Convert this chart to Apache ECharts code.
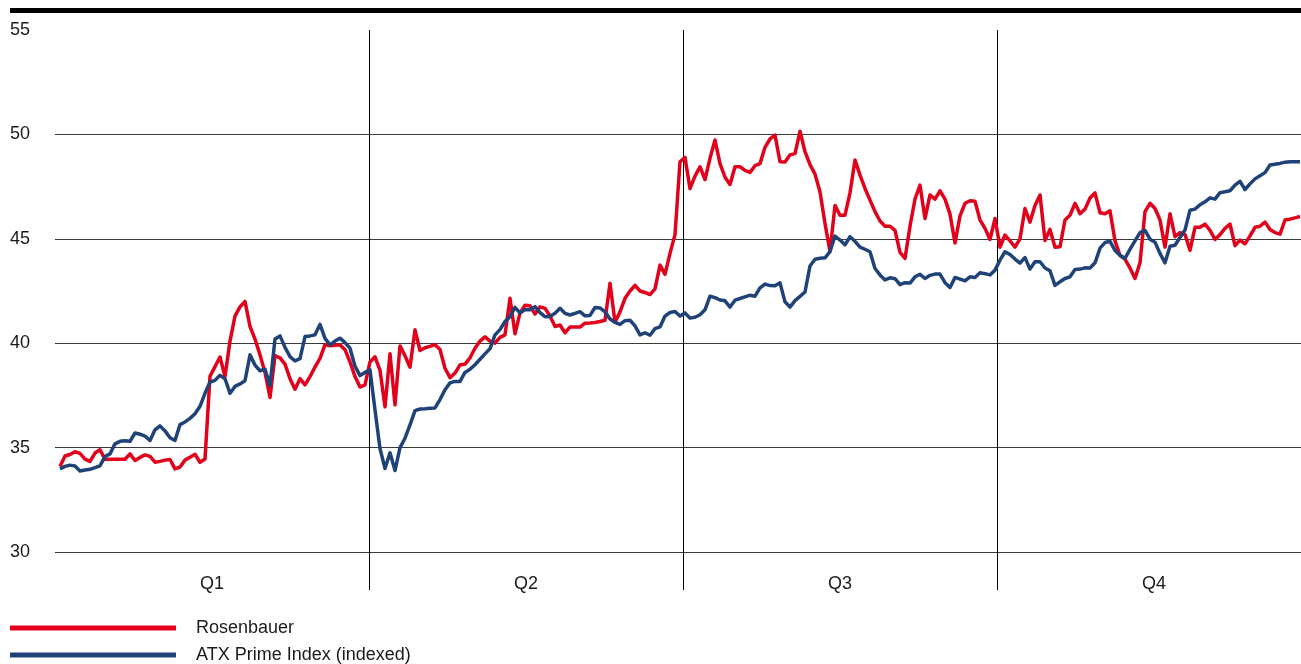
<!DOCTYPE html>
<html>
<head>
<meta charset="utf-8">
<script src="https://cdn.jsdelivr.net/npm/echarts@6/dist/echarts.min.js"></script>
<style>
html,body{margin:0;padding:0;background:#fff;overflow:hidden;width:1301px;height:664px;}
#chart{width:1311px;height:664px;}
</style>
</head>
<body>
<div id="chart"></div>
<script>
const quarters = ['Q1', 'Q2', 'Q3', 'Q4'];
const yTicks = [30, 35, 40, 45, 50, 55];
const seriesNames = ['Rosenbauer', 'ATX Prime Index (indexed)'];

const rosenbauer = [
34.1,34.6,34.67,34.8,34.72,34.45,34.34,34.74,34.9,34.44,
34.44,34.44,34.44,34.44,34.7,34.38,34.53,34.65,34.58,34.3,
34.34,34.4,34.43,33.98,34.07,34.4,34.54,34.68,34.3,34.45,
38.42,38.88,39.34,38.4,40.1,41.3,41.74,42.0,40.8,40.2,
39.44,38.6,37.4,39.4,39.3,39.0,38.3,37.8,38.3,38.0,
38.4,38.86,39.27,39.93,39.88,39.9,39.92,39.69,39.1,38.4,
37.9,38.0,39.1,39.35,38.7,36.95,39.5,37.05,39.87,39.4,
38.85,40.64,39.65,39.78,39.85,39.93,39.7,38.8,38.35,38.57,
38.96,39.0,39.3,39.76,40.1,40.3,40.1,40.0,40.28,40.4,
42.15,40.45,41.45,41.82,41.79,41.4,41.74,41.67,41.3,40.8,
40.87,40.5,40.77,40.77,40.77,40.96,40.97,40.99,41.04,41.1,
42.87,41.0,41.5,42.15,42.5,42.77,42.5,42.43,42.33,42.6,
43.74,43.3,44.3,45.2,48.69,48.9,47.4,48.0,48.45,47.84,
48.85,49.73,48.6,47.95,47.6,48.45,48.45,48.28,48.18,48.5,
48.6,49.38,49.78,49.97,48.69,48.68,49.02,49.08,50.15,49.17,
48.55,48.1,47.24,45.73,44.4,46.6,46.13,46.13,47.2,48.77,
48.05,47.41,46.85,46.3,45.85,45.6,45.6,45.4,44.35,44.06,
45.6,46.9,47.57,45.97,47.1,46.9,47.3,46.9,46.18,44.8,
46.1,46.7,46.82,46.8,45.9,45.5,44.97,45.97,44.6,45.18,
44.9,44.6,45.0,46.45,45.8,46.6,47.1,44.92,45.45,44.6,
44.62,45.9,46.13,46.7,46.2,46.42,46.95,47.2,46.25,46.2,
46.34,44.9,44.2,44.03,43.6,43.1,43.85,46.3,46.7,46.45,
45.9,44.6,46.2,45.1,45.3,45.2,44.45,45.55,45.55,45.7,
45.4,44.97,45.2,45.5,45.7,44.67,44.94,44.76,45.14,45.55,
45.6,45.8,45.45,45.3,45.22,45.9,45.94,46.0,46.07
];

const atxPrime = [
33.98,34.1,34.16,34.12,33.88,33.93,33.96,34.04,34.13,34.57,
34.7,35.18,35.3,35.33,35.3,35.7,35.64,35.55,35.34,35.85,
36.04,35.8,35.47,35.34,36.1,36.23,36.4,36.62,36.98,37.6,
38.14,38.22,38.46,38.3,37.6,37.93,38.05,38.2,39.44,38.95,
38.68,38.75,37.98,40.2,40.35,39.8,39.36,39.15,39.26,40.32,
40.35,40.4,40.9,40.23,39.92,40.1,40.24,40.03,39.76,38.9,
38.45,38.6,38.72,36.8,34.95,34.0,34.75,33.9,35.0,35.45,
36.09,36.77,36.85,36.86,36.88,36.9,37.3,37.77,38.1,38.17,
38.17,38.6,38.75,38.97,39.23,39.49,39.74,40.4,40.65,41.04,
41.27,41.72,41.45,41.61,41.6,41.75,41.46,41.27,41.28,41.43,
41.67,41.43,41.35,41.43,41.51,41.31,41.33,41.71,41.69,41.5,
41.16,41.0,40.9,41.08,41.1,40.83,40.4,40.5,40.38,40.7,
40.78,41.3,41.47,41.52,41.3,41.45,41.2,41.24,41.36,41.6,
42.25,42.18,42.07,42.03,41.73,42.06,42.14,42.22,42.3,42.25,
42.65,42.83,42.76,42.75,42.89,41.98,41.73,42.04,42.24,42.45,
43.7,44.02,44.07,44.09,44.39,45.13,44.94,44.71,45.1,44.88,
44.6,44.5,44.38,43.58,43.27,43.03,43.13,43.09,42.8,42.9,
42.88,43.18,43.3,43.1,43.25,43.31,43.31,42.9,42.67,43.15,
43.07,42.99,43.18,43.15,43.37,43.33,43.27,43.5,43.98,44.38,
44.25,44.03,43.84,44.1,43.55,43.9,43.9,43.6,43.47,42.77,
42.94,43.1,43.18,43.53,43.55,43.61,43.6,43.85,44.55,44.82,
44.88,44.44,44.21,44.06,44.5,44.9,45.3,45.4,44.98,44.84,
44.3,43.85,44.64,44.69,45.06,45.42,46.37,46.42,46.63,46.77,
46.96,46.9,47.21,47.25,47.3,47.57,47.75,47.36,47.63,47.87,
48.02,48.17,48.53,48.57,48.61,48.67,48.69,48.69,48.69
];

const days = rosenbauer.map((_, i) => String(i + 1));
const RED = '#E2001A';
const BLUE = '#1F4379';
const FONT = 'Liberation Sans, Arial, sans-serif';
const FS = 18;
const legendText = {fontSize: FS, color: '#1a1a1a', fontFamily: FONT, padding: [0,0,0,15]};

const chart = echarts.init(document.getElementById('chart'), null, {renderer: 'canvas'});
chart.setOption({
  animation: false,
  backgroundColor: '#ffffff',
  textStyle: {fontFamily: FONT},
  graphic: [{
    type: 'rect', left: 10, top: 8, silent: true,
    shape: {width: 1301, height: 5},
    style: {fill: '#000'}
  }],
  legend: [
    {
      left: 5, top: 614, icon: 'rect', itemWidth: 166, itemHeight: 5,
      data: [seriesNames[0]], textStyle: legendText
    },
    {
      left: 5, top: 641, icon: 'rect', itemWidth: 166, itemHeight: 5,
      data: [seriesNames[1]], textStyle: legendText
    }
  ],
  grid: [
    {left: 55, right: 0, top: 30, height: 522, containLabel: false},
    {left: 60, right: 11, top: 30, height: 522, containLabel: false}
  ],
  xAxis: [
    {
      gridIndex: 0, type: 'category', data: quarters, boundaryGap: true,
      axisLine: {show: false},
      axisTick: {show: true, length: 38, interval: (i) => i > 0, lineStyle: {color: '#000', width: 1}},
      axisLabel: {margin: 23, fontSize: FS, color: '#1a1a1a', fontFamily: FONT},
      splitLine: {show: true, showMinLine: false, showMaxLine: false, lineStyle: {color: '#000', width: 1}}
    },
    {
      gridIndex: 1, type: 'category', data: days, boundaryGap: false, show: false
    }
  ],
  yAxis: [
    {
      gridIndex: 0, type: 'value', min: yTicks[0], max: yTicks[yTicks.length - 1], interval: 5,
      axisLine: {show: false}, axisTick: {show: false},
      axisLabel: {align: 'left', margin: 45, fontSize: FS, color: '#1a1a1a', fontFamily: FONT},
      splitLine: {show: true, showMaxLine: false, lineStyle: {color: '#3a3a3a', width: 1}}
    },
    {
      gridIndex: 1, type: 'value', min: yTicks[0], max: yTicks[yTicks.length - 1], show: false,
      splitLine: {show: false}
    }
  ],
  series: [
    {
      name: seriesNames[0], type: 'line', xAxisIndex: 1, yAxisIndex: 1,
      data: rosenbauer, symbol: 'none', color: RED,
      lineStyle: {width: 3.5, color: RED, join: 'round'}
    },
    {
      name: seriesNames[1], type: 'line', xAxisIndex: 1, yAxisIndex: 1,
      data: atxPrime, symbol: 'none', color: BLUE,
      lineStyle: {width: 3.5, color: BLUE, join: 'round'}
    }
  ]
});
</script>
</body>
</html>
